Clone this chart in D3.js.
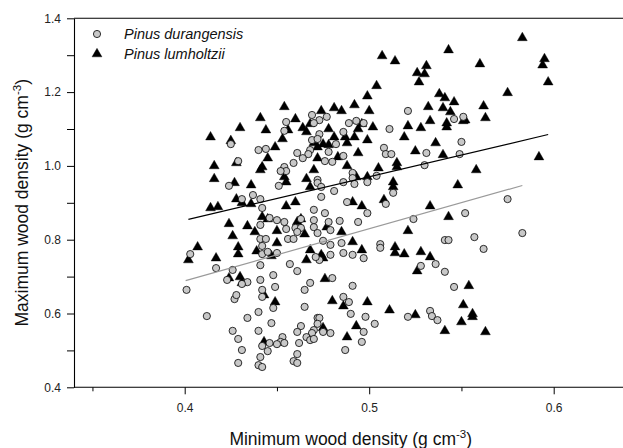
<!DOCTYPE html>
<html>
<head>
<meta charset="utf-8">
<script src="https://cdn.jsdelivr.net/npm/d3@7"></script>
<style>
  html, body { margin: 0; padding: 0; background: #fff; }
  svg { display: block; }
  text { font-family: "Liberation Sans", Arial, sans-serif; }
</style>
</head>
<body>
<svg id="chart" width="623" height="448"></svg>
<script>
// ---------- data ----------
const xTicks = [0.4, 0.5, 0.6];
const xMinorTicks = [0.35, 0.45, 0.55];
const yTicks = [0.4, 0.6, 0.8, 1.0, 1.2, 1.4];
const yMinorTicks = [0.5, 0.7, 0.9, 1.1, 1.3];
const seriesNames = ["Pinus durangensis", "Pinus lumholtzii"];

// Pinus lumholtzii: [minimum density, maximum density]
const lumholtzii = [
 [0.583,1.347],[0.543,1.314],[0.507,1.298],[0.514,1.284],[0.560,1.276],[0.595,1.290],[0.594,1.273],
 [0.531,1.271],[0.526,1.252],[0.530,1.249],[0.527,1.227],[0.597,1.227],[0.504,1.217],[0.575,1.198],
 [0.538,1.195],[0.499,1.189],[0.541,1.184],[0.546,1.173],[0.562,1.162],[0.532,1.160],[0.540,1.157],
 [0.492,1.165],[0.544,1.146],[0.500,1.149],[0.481,1.157],[0.485,1.149],[0.474,1.149],[0.454,1.160],
 [0.563,1.130],[0.552,1.124],[0.542,1.116],[0.542,1.105],[0.551,1.122],[0.533,1.122],[0.528,1.103],
 [0.521,1.108],[0.502,1.105],[0.496,1.114],[0.494,1.100],[0.478,1.100],[0.464,1.103],[0.466,1.092],
 [0.468,1.114],[0.460,1.127],[0.456,1.097],[0.441,1.130],[0.430,1.103],[0.444,1.097],[0.414,1.078],
 [0.425,1.068],[0.481,1.078],[0.487,1.078],[0.492,1.078],[0.488,1.062],[0.499,1.070],[0.519,1.078],
 [0.536,1.062],[0.453,1.073],[0.449,1.051],[0.470,1.062],[0.475,1.059],[0.478,1.057],[0.472,1.051],
 [0.525,1.040],[0.540,1.030],[0.494,1.035],[0.483,1.024],[0.472,1.021],[0.592,1.024],[0.416,1.000],
 [0.428,1.008],[0.445,1.021],[0.442,0.997],[0.441,0.989],[0.470,0.989],[0.488,1.000],[0.505,0.994],
 [0.515,1.008],[0.515,0.997],[0.558,0.989],[0.453,0.989],[0.416,0.965],[0.454,0.970],[0.455,0.956],
 [0.466,0.965],[0.468,0.943],[0.493,0.970],[0.499,0.970],[0.513,0.956],[0.513,0.943],[0.548,0.948],
 [0.427,0.954],[0.436,0.948],[0.428,0.910],[0.431,0.900],[0.436,0.897],[0.414,0.886],[0.418,0.889],
 [0.455,0.891],[0.460,0.902],[0.491,0.902],[0.496,0.891],[0.508,0.908],[0.533,0.891],[0.543,0.862],
 [0.442,0.862],[0.445,0.856],[0.461,0.848],[0.463,0.856],[0.424,0.843],[0.434,0.837],[0.450,0.824],
 [0.438,0.821],[0.465,0.815],[0.477,0.834],[0.485,0.821],[0.521,0.824],[0.426,0.810],[0.450,0.791],
 [0.491,0.794],[0.429,0.780],[0.407,0.780],[0.468,0.772],[0.439,0.769],[0.429,0.761],[0.402,0.745],
 [0.417,0.750],[0.447,0.756],[0.474,0.759],[0.475,0.750],[0.466,0.745],[0.496,0.772],[0.514,0.780],
 [0.514,0.764],[0.519,0.761],[0.528,0.767],[0.533,0.753],[0.526,0.715],[0.424,0.696],[0.430,0.699],
 [0.431,0.683],[0.476,0.694],[0.443,0.650],[0.449,0.631],[0.480,0.634],[0.486,0.620],[0.499,0.631],
 [0.511,0.609],[0.525,0.596],[0.551,0.623],[0.554,0.675],[0.556,0.599],[0.556,0.591],[0.550,0.577],
 [0.541,0.553],[0.563,0.550],[0.475,0.561],[0.493,0.566],[0.488,0.536],[0.443,0.523]
];

// Pinus durangensis: [minimum density, maximum density]
const durangensis = [
 [0.425,1.059],[0.429,1.013],[0.440,1.043],[0.444,1.046],[0.424,0.946],[0.437,0.921],[0.441,0.910],
 [0.431,0.910],[0.442,0.886],[0.455,1.119],[0.454,1.095],[0.469,1.138],[0.473,1.124],[0.477,1.133],
 [0.470,1.116],[0.489,1.116],[0.493,1.122],[0.497,1.116],[0.486,1.092],[0.473,1.086],[0.469,1.070],
 [0.472,1.073],[0.482,1.059],[0.478,1.038],[0.468,1.043],[0.467,1.032],[0.461,1.035],[0.464,1.021],
 [0.459,1.008],[0.476,1.013],[0.480,1.011],[0.486,1.027],[0.454,0.997],[0.455,0.986],[0.452,0.986],
 [0.451,0.946],[0.472,0.962],[0.472,0.954],[0.474,0.943],[0.491,0.981],[0.491,0.967],[0.492,0.951],
 [0.486,0.956],[0.481,0.932],[0.474,0.916],[0.488,0.902],[0.470,0.881],[0.521,1.149],[0.511,1.100],
 [0.546,1.127],[0.551,1.133],[0.550,1.065],[0.508,1.049],[0.509,1.032],[0.512,1.032],[0.531,1.035],
 [0.549,1.032],[0.530,1.002],[0.504,0.973],[0.499,0.956],[0.513,0.927],[0.509,0.897],[0.575,0.910],
 [0.552,0.872],[0.524,0.856],[0.499,0.872],[0.476,0.872],[0.463,0.856],[0.446,0.859],[0.450,0.853],
 [0.454,0.848],[0.470,0.853],[0.478,0.848],[0.484,0.851],[0.494,0.848],[0.441,0.840],[0.455,0.829],
 [0.460,0.832],[0.463,0.832],[0.470,0.834],[0.472,0.818],[0.479,0.826],[0.441,0.802],[0.444,0.802],
 [0.442,0.783],[0.442,0.761],[0.450,0.764],[0.456,0.802],[0.459,0.802],[0.461,0.821],[0.475,0.797],
 [0.479,0.786],[0.485,0.791],[0.473,0.745],[0.479,0.759],[0.486,0.764],[0.491,0.759],[0.497,0.750],
 [0.457,0.734],[0.461,0.715],[0.468,0.683],[0.465,0.664],[0.480,0.696],[0.491,0.675],[0.486,0.645],
 [0.489,0.631],[0.490,0.599],[0.498,0.591],[0.465,0.618],[0.472,0.588],[0.473,0.588],[0.463,0.566],
 [0.461,0.550],[0.470,0.555],[0.469,0.547],[0.475,0.550],[0.479,0.547],[0.497,0.550],[0.453,0.536],
 [0.452,0.523],[0.454,0.520],[0.450,0.517],[0.466,0.536],[0.468,0.528],[0.462,0.520],[0.496,0.523],
 [0.487,0.501],[0.461,0.490],[0.459,0.471],[0.461,0.466],[0.503,0.572],[0.506,0.788],[0.506,0.778],
 [0.541,0.799],[0.543,0.799],[0.528,0.729],[0.536,0.734],[0.541,0.713],[0.546,0.672],[0.521,0.591],
 [0.533,0.607],[0.534,0.593],[0.537,0.582],[0.583,0.818],[0.557,0.807],[0.562,0.775],[0.403,0.761],
 [0.401,0.664],[0.412,0.593],[0.417,0.723],[0.426,0.718],[0.423,0.691],[0.434,0.685],[0.431,0.680],
 [0.427,0.639],[0.428,0.650],[0.434,0.588],[0.426,0.553],[0.429,0.531],[0.431,0.501],[0.429,0.466],
 [0.441,0.731],[0.441,0.691],[0.442,0.664],[0.442,0.645],[0.448,0.704],[0.449,0.672],[0.448,0.615],
 [0.440,0.604],[0.447,0.574],[0.440,0.553],[0.442,0.512],[0.446,0.520],[0.445,0.498],[0.441,0.482],
 [0.440,0.460],[0.442,0.455],[0.470,0.531],[0.471,0.753],[0.472,0.572],[0.445,0.767]
];

// regression lines (endpoints)
const fitLumholtzii = [[0.402, 0.855], [0.597, 1.085]];
const fitDurangensis = [[0.4005, 0.689], [0.583, 0.947]];

// ---------- drawing ----------
(function () {
const svg = d3.select("#chart");
const mLeft = 74, mRight = 627.5, mTop = 18.3, mBottom = 387.3;

const x = d3.scaleLinear().domain([0.34, 0.64]).range([mLeft, mRight]);
const y = d3.scaleLinear().domain([0.4, 1.4]).range([mBottom, mTop]);

const fmt = d3.format(".1f");

// frame
const frame = svg.append("g").attr("stroke", "#000").attr("stroke-width", 1.1).attr("fill", "none");
frame.append("line").attr("x1", mLeft).attr("x2", mRight).attr("y1", mTop).attr("y2", mTop);
frame.append("line").attr("x1", mRight).attr("x2", mRight).attr("y1", mTop).attr("y2", mBottom);

// axes
const xAxis = svg.append("g").attr("transform", `translate(0,${mBottom})`)
  .call(d3.axisBottom(x).tickValues(xTicks).tickFormat(fmt).tickSizeOuter(0).tickSizeInner(7).tickPadding(9));
const xMinor = svg.append("g").attr("transform", `translate(0,${mBottom})`)
  .call(d3.axisBottom(x).tickValues(xMinorTicks).tickFormat("").tickSizeOuter(0).tickSizeInner(4));
const yAxis = svg.append("g").attr("transform", `translate(${mLeft},0)`)
  .call(d3.axisLeft(y).tickValues(yTicks).tickFormat(fmt).tickSizeOuter(0).tickSizeInner(7).tickPadding(6));
const yMinor = svg.append("g").attr("transform", `translate(${mLeft},0)`)
  .call(d3.axisLeft(y).tickValues(yMinorTicks).tickFormat("").tickSizeOuter(0).tickSizeInner(7));

[xAxis, xMinor, yAxis, yMinor].forEach(g => {
  g.select(".domain").attr("stroke", "#000").attr("stroke-width", 1.1);
  g.selectAll(".tick line").attr("stroke", "#000").attr("stroke-width", 1);
  g.selectAll(".tick text").attr("font-size", 12).attr("fill", "#222")
    .attr("font-family", "'Liberation Sans', Arial, sans-serif");
});
xMinor.select(".domain").remove();
yMinor.select(".domain").remove();
xAxis.select(".domain").attr("d", `M${mLeft},0H${mRight}`);

// points
const tri = d3.symbol().type(d3.symbolTriangle).size(42);
svg.append("g").selectAll("path").data(lumholtzii).join("path")
  .attr("d", tri)
  .attr("transform", d => `translate(${x(d[0])},${y(d[1])})`)
  .attr("fill", "#000").attr("stroke", "#000").attr("stroke-width", 0.4);

svg.append("g").selectAll("circle").data(durangensis).join("circle")
  .attr("cx", d => x(d[0])).attr("cy", d => y(d[1])).attr("r", 3.6)
  .attr("fill", "#c8c8c8").attr("stroke", "#000").attr("stroke-width", 0.8);

// regression lines
const line = d3.line().x(d => x(d[0])).y(d => y(d[1]));
svg.append("path").datum(fitDurangensis).attr("d", line)
  .attr("fill", "none").attr("stroke", "#9a9a9a").attr("stroke-width", 1.2);
svg.append("path").datum(fitLumholtzii).attr("d", line)
  .attr("fill", "none").attr("stroke", "#000").attr("stroke-width", 1.2);

// legend
const lg = svg.append("g");
lg.append("circle").attr("cx", 97).attr("cy", 34).attr("r", 3.6)
  .attr("fill", "#c8c8c8").attr("stroke", "#000").attr("stroke-width", 0.8);
lg.append("path").attr("d", tri).attr("transform", "translate(97,54)")
  .attr("fill", "#000").attr("stroke", "#000").attr("stroke-width", 0.4);
lg.selectAll("text").data(seriesNames).join("text")
  .attr("x", 124).attr("y", (d, i) => 39 + i * 20)
  .attr("font-size", 14.5).attr("font-style", "italic").attr("fill", "#111")
  .text(d => d);

// axis titles
const xt = svg.append("text").attr("x", (mLeft + mRight) / 2).attr("y", 445)
  .attr("text-anchor", "middle").attr("font-size", 17.5).attr("fill", "#111");
xt.append("tspan").text("Minimum wood density (g cm");
xt.append("tspan").attr("dy", -7).attr("font-size", 11.5).text("-3");
xt.append("tspan").attr("dy", 7).text(")");

const yt = svg.append("text")
  .attr("transform", `translate(28,${(mTop + mBottom) / 2}) rotate(-90)`)
  .attr("text-anchor", "middle").attr("font-size", 17.5).attr("fill", "#111");
yt.append("tspan").text("Maximum wood density (g cm");
yt.append("tspan").attr("dy", -7).attr("font-size", 11.5).text("-3");
yt.append("tspan").attr("dy", 7).text(")");
})();
</script>
</body>
</html>
